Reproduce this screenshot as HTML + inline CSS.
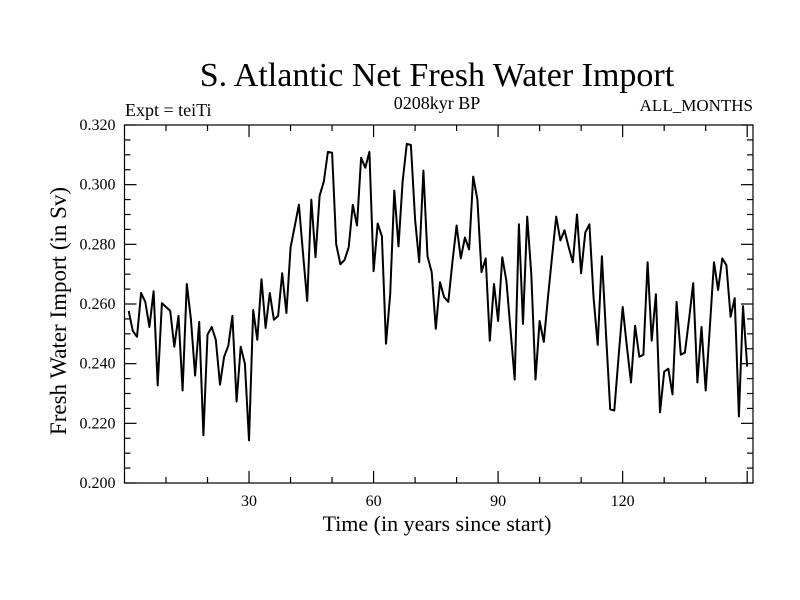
<!DOCTYPE html>
<html><head><meta charset="utf-8"><style>
html,body{margin:0;padding:0;background:#fff}
svg{display:block;font-family:"Liberation Serif",serif}
</style></head><body>
<svg id="chart" width="800" height="600" xmlns="http://www.w3.org/2000/svg">
<text x="437" y="86" font-size="34" text-anchor="middle">S. Atlantic Net Fresh Water Import</text>
<text x="125" y="116" font-size="18">Expt = teiTi</text>
<text x="437" y="109" font-size="18" text-anchor="middle">0208kyr BP</text>
<text x="753" y="111" font-size="17" text-anchor="end">ALL_MONTHS</text>
<text transform="translate(66,311) rotate(-90)" font-size="23" text-anchor="middle">Fresh Water Import (in Sv)</text>
<text x="437" y="531" font-size="22" text-anchor="middle">Time (in years since start)</text>
<g id="axes"></g>
<polyline id="series" fill="none" stroke="#000" stroke-width="2" stroke-linejoin="round"/>
<rect x="124.5" y="125" width="628.5" height="358" fill="none" stroke="#000" stroke-width="1.2"/>
</svg>
<script>
const values=[.2577,.251,.249,.2637,.2607,.2523,.2643,.2327,.2603,.259,.2577,.2457,.256,.231,.2667,.255,.236,.254,.216,.2497,.2523,.248,.233,.2423,.246,.256,.2273,.2457,.24,.2143,.258,.248,.2683,.252,.2637,.2547,.256,.2703,.257,.279,.286,.2933,.277,.261,.295,.2757,.2963,.301,.311,.3107,.28,.2733,.2747,.279,.2933,.2863,.309,.3057,.311,.271,.287,.2827,.2467,.2633,.298,.2793,.301,.3137,.3133,.2883,.274,.3047,.276,.2707,.2517,.2673,.2623,.2607,.274,.2863,.2753,.2823,.2783,.3027,.295,.2707,.2753,.2477,.2667,.2543,.2757,.2677,.251,.2347,.2867,.2533,.2893,.27,.2347,.2543,.2473,.262,.276,.2893,.2813,.2847,.279,.274,.29,.2703,.284,.2867,.262,.2463,.276,.25,.2247,.2243,.242,.259,.246,.2337,.2527,.2423,.243,.274,.2477,.2633,.2237,.2373,.2383,.2297,.2607,.243,.2437,.255,.267,.2337,.2523,.231,.252,.274,.2647,.2753,.273,.2557,.262,.2223,.2593,.239];
const xTicks=[30,60,90,120];
const yTicks=[0.200,0.220,0.240,0.260,0.280,0.300,0.320];
const yTickLabels=["0.200","0.220","0.240","0.260","0.280","0.300","0.320"];
const X0=124.5,X1=753,Y0=483,Y1=125,XMIN=0,XMAX=151.4,YMIN=0.2,YMAX=0.32;
const xs=t=>X0+(t-XMIN)/(XMAX-XMIN)*(X1-X0);
const ys=v=>Y0-(v-YMIN)/(YMAX-YMIN)*(Y0-Y1);
const NS="http://www.w3.org/2000/svg";
const ax=document.getElementById('axes');
function line(x1,y1,x2,y2,name){const l=document.createElementNS(NS,'line');
l.setAttribute('x1',x1);l.setAttribute('y1',y1);l.setAttribute('x2',x2);l.setAttribute('y2',y2);
l.setAttribute('stroke','#000');l.setAttribute('stroke-width','1.2');


ax.appendChild(l);}
function text(x,y,s,anchor,name){const t=document.createElementNS(NS,'text');
t.setAttribute('x',x);t.setAttribute('y',y);t.setAttribute('font-size','16');t.setAttribute('text-anchor',anchor);t.textContent=s;


ax.appendChild(t);}
for(let t=10;t<XMAX;t+=10){const x=xs(t);const major=t%30===0;const L=major?12:6;
line(x,Y0,x,Y0-L,'x-tick');line(x,Y1,x,Y1+L,'x-tick-top');}
xTicks.forEach(t=>text(xs(t),Y0+23,String(t),'middle','x-tick-label'));
for(let k=0;k<=24;k++){const v=YMIN+k*0.005;const y=ys(v);const major=k%4===0;const L=major?12:6;
line(X0,y,X0+L,y,'y-tick');line(X1,y,X1-L,y,'y-tick-right');}
yTicks.forEach((v,i)=>text(X0-9,ys(v)+5,yTickLabels[i],'end','y-tick-label'));
document.getElementById('series').setAttribute('points',values.map((v,i)=>xs(i+1).toFixed(1)+','+ys(v).toFixed(1)).join(' '));
</script>
</body></html>
